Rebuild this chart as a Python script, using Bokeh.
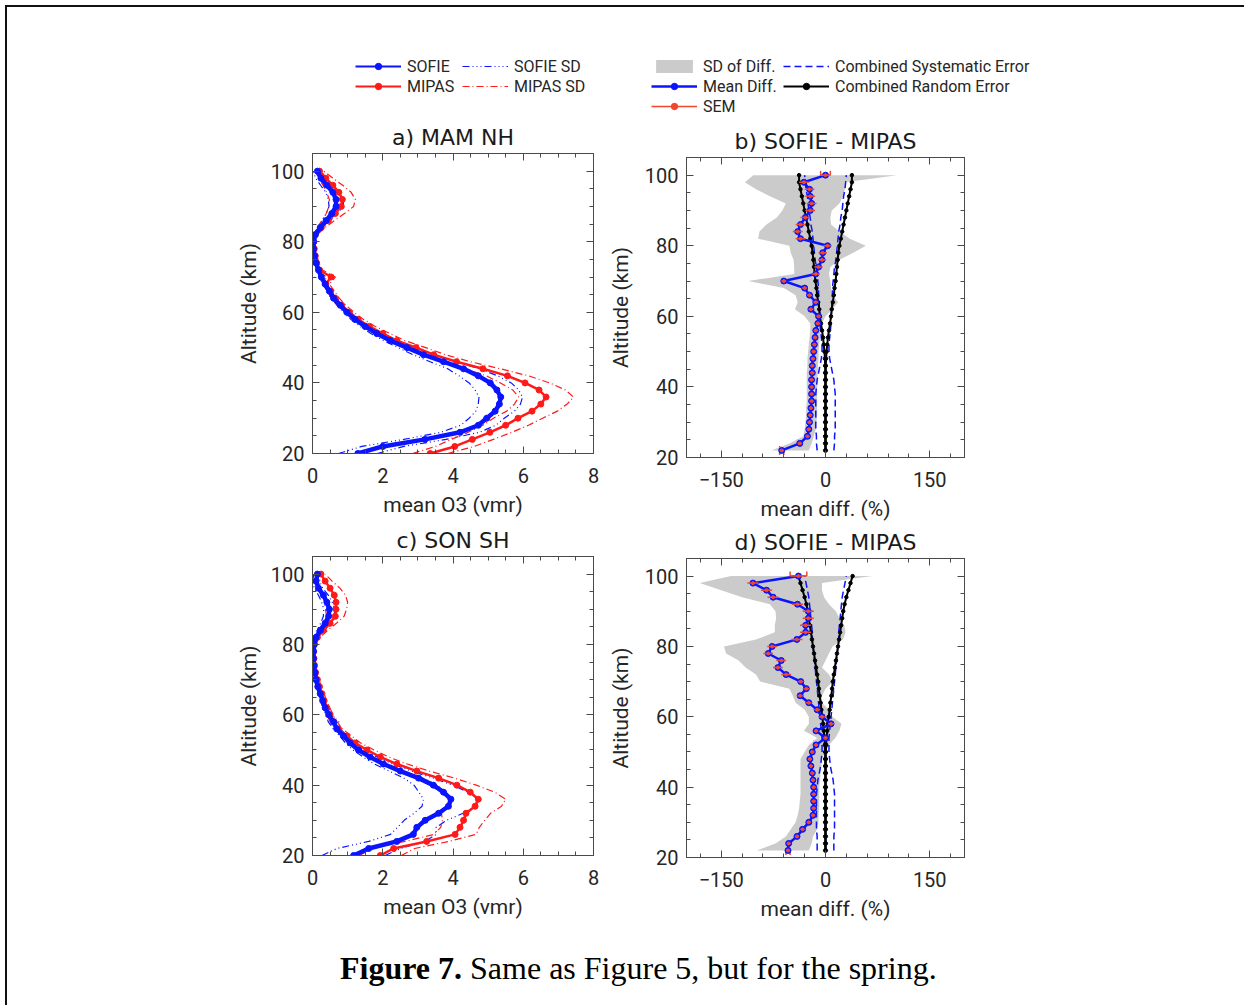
import numpy as np
from bokeh.plotting import figure
from bokeh.models import (Range1d, FixedTicker, LinearAxis, Legend, LegendItem,
                          Whisker, TeeHead, ColumnDataSource, Div)
from bokeh.layouts import column, row
from bokeh.embed import file_html
from bokeh.resources import INLINE

FONT = "Roboto"
TFONT = "DejaVu Sans"
TXT = "#262626"
AXC = "#4a4a4a"
BLUE = "#0a14ff"
RED = "#ff1a1a"
SEMC = "#f0482c"
GRAY = "#cbcbcb"
NAN = float("nan")

# ---------------- data ----------------
ALT = list(range(20, 101, 2))      # profile altitudes (km)
ALT_D = list(range(22, 101, 2))    # difference altitudes (km)

X_TICKS_O3 = [0, 2, 4, 6, 8]
X_TICKS_DIFF = [-150, 0, 150]
Y_TICKS = [20, 40, 60, 80, 100]

# a) MAM NH  (ppmv)
sofie_a = [1.29, 2.0, 3.2, 4.2, 4.72, 4.96, 5.20, 5.32, 5.36, 5.25, 5.06, 4.72, 4.30, 3.73,
           3.16, 2.69, 2.21, 1.83, 1.50, 1.21, 0.98, 0.79, 0.60, 0.48, 0.36, 0.25, 0.17, 0.10,
           0.06, 0.03, 0.03, 0.08, 0.22, 0.39, 0.55, 0.67, 0.67, 0.58, 0.41, 0.24, 0.14]
mipas_a = [3.35, 4.05, 4.55, 5.05, 5.5, 5.85, 6.25, 6.5, 6.65, 6.45, 6.05, 5.55, 4.85, 4.1,
           3.45, 2.95, 2.4, 2.0, 1.62, 1.3, 1.05, 0.83, 0.65, 0.52, 0.38, 0.53, 0.2, 0.12,
           0.08, 0.05, 0.04, 0.08, 0.25, 0.45, 0.65, 0.82, 0.85, 0.75, 0.58, 0.38, 0.2]
sofie_sd_a = [0.55, 0.6, 0.6, 0.55, 0.5, 0.5, 0.55, 0.6, 0.62, 0.62, 0.6, 0.55, 0.45, 0.38,
              0.3, 0.25, 0.2, 0.17, 0.14, 0.12, 0.1, 0.09, 0.08, 0.07, 0.06, 0.05, 0.04, 0.04,
              0.03, 0.03, 0.03, 0.05, 0.08, 0.12, 0.16, 0.2, 0.22, 0.2, 0.18, 0.15, 0.12]
mipas_sd_a = [0.5, 0.55, 0.6, 0.62, 0.65, 0.7, 0.72, 0.75, 0.78, 0.75, 0.7, 0.6, 0.5, 0.4,
              0.33, 0.27, 0.23, 0.2, 0.17, 0.15, 0.13, 0.12, 0.11, 0.1, 0.1, 0.12, 0.08, 0.06,
              0.05, 0.04, 0.04, 0.06, 0.1, 0.18, 0.26, 0.35, 0.37, 0.35, 0.28, 0.2, 0.12]

# c) SON SH  (ppmv)
sofie_c = [1.17, 1.6, 2.4, 2.87, 2.97, 3.21, 3.59, 3.87, 3.94, 3.73, 3.44, 3.02, 2.50, 2.02,
           1.64, 1.31, 1.07, 0.88, 0.69, 0.60, 0.46, 0.36, 0.29, 0.22, 0.15, 0.10, 0.07, 0.04,
           0.03, 0.03, 0.05, 0.10, 0.22, 0.36, 0.46, 0.48, 0.41, 0.31, 0.17, 0.10, 0.14]
mipas_c = [1.93, 2.31, 3.25, 4.06, 4.20, 4.30, 4.37, 4.63, 4.72, 4.49, 4.11, 3.59, 2.97, 2.40,
           1.93, 1.55, 1.21, 0.98, 0.74, 0.60, 0.50, 0.41, 0.33, 0.27, 0.20, 0.14, 0.09, 0.06,
           0.04, 0.03, 0.05, 0.14, 0.31, 0.50, 0.65, 0.67, 0.67, 0.62, 0.50, 0.36, 0.24]
sofie_sd_c = [0.9, 0.9, 0.8, 0.65, 0.55, 0.6, 0.7, 0.75, 0.78, 0.7, 0.55, 0.42, 0.32, 0.26,
              0.2, 0.16, 0.13, 0.11, 0.1, 0.15, 0.08, 0.07, 0.06, 0.05, 0.04, 0.04, 0.03, 0.03,
              0.03, 0.03, 0.04, 0.06, 0.1, 0.13, 0.15, 0.16, 0.15, 0.14, 0.12, 0.1, 0.1]
mipas_sd_c = [0.6, 0.6, 0.62, 0.6, 0.55, 0.6, 0.7, 0.75, 0.78, 0.7, 0.55, 0.45, 0.36, 0.3,
              0.24, 0.2, 0.16, 0.13, 0.11, 0.1, 0.09, 0.08, 0.07, 0.06, 0.05, 0.05, 0.04, 0.04,
              0.03, 0.03, 0.04, 0.07, 0.12, 0.18, 0.25, 0.3, 0.33, 0.32, 0.28, 0.2, 0.12]

# b) SOFIE - MIPAS (MAM NH), percent
diff_b = [-63, -37, -26, -24, -23, -22, -21, -20, -20, -20, -20, -19, -19, -18, -17, -16,
          -15, -14, -11, -10, -21, -14, -23, -30, -60, -14, -10, -5, -4, 3, -36, -40, -36,
          -29, -22, -20, -22, -23, -31, 0]
sem_b = [3, 3, 3, 3, 3, 3, 3, 3, 3, 3, 3, 3, 3, 3, 3, 3, 3, 3, 3, 3, 3.5, 3.5, 3.5, 3.5,
         3.5, 6, 6, 6, 6, 6, 7, 7, 7, 7, 7, 7, 7, 7, 7, 7]
sd_lo_b = [-78, -52, -32, -30, -29, -28, -28, -27, -27, -27, -27, -27, -26, -26, -25, -24,
           -23, -22, -22, -30, -44, -40, -43, -60, -111, -45, -45, -46, -50, -52, -97, -95,
           -85, -70, -62, -57, -80, -100, -116, -104]
sd_hi_b = [-24, -20, -17, -14, -13, -12, -12, -12, -12, -12, -12, -11, -11, -10, -10, -9,
           -8, -7, -5, 0, 10, 18, 10, 8, 7, 5, 7, 20, 40, 58, 35, 20, 8, 7, 9, 20, 25, 28,
           28, 103]
sys_b = [12, 13, 13, 14, 14, 14, 14, 14, 14, 13, 12, 10, 8, 6, 5, 5, 6, 7, 8, 8, 9, 9, 10,
         10, 11, 12, 13, 15, 16, 17, 18, 19, 21, 22, 24, 25, 26, 28, 29, 30]
rnd_b = [0.5, 0.5, 0.5, 0.5, 0.5, 0.5, 0.5, 0.5, 0.5, 0.5, 0.5, 0.5, 0.5, 0.8, 1.5, 2.5,
         3.5, 5, 6.5, 8, 9, 10.5, 12, 13, 14.5, 15.5, 16.5, 17.5, 18.5, 20, 22, 24, 26, 28,
         30, 32, 34, 36, 38, 38]

# d) SOFIE - MIPAS (SON SH), percent
diff_d = [-54, -53, -41, -33, -24, -18, -17, -17, -17, -17, -18, -19, -21, -22.5, -19,
          -13.6, 0, -13.6, 8, -5, -12, -24, -36.5, -27.6, -35.6, -56.7, -68.4, -63.7, -82.4,
          -76.8, -41.2, -28.6, -28.6, -24.8, -24.8, -40.3, -75.4, -84.8, -104.4, -38.9]
sem_d = [3, 3, 3, 3, 3, 3, 3, 3, 3, 3, 3, 3, 3, 3, 3, 3, 3, 3, 4, 4, 4, 4, 4, 4, 4, 7, 7,
         7, 7, 7, 8, 8, 8, 8, 8, 8, 8, 8, 8, 12]
sd_lo_d = [-99, -72, -57, -50, -43, -40, -38, -37, -36, -36, -36, -36, -36, -36, -30, -24,
           -12, -31, -24, -24, -30, -43, -47, -52, -94, -100, -115, -125, -143, -146, -100,
           -73, -73, -71, -72, -80, -120, -150, -181, -136]
sd_hi_d = [-24, -20, -18, -12, -10, -10, -9, -9, -9, -9, -8, -7, -6, -5, 0, 5, 14, 20, 23,
           10, 5, -5, -5, 0, 11, 5, -5, 0, 5, 10, 25, 29, 27, 20, 15, 5, -2, -5, -5, 67]
sys_d = [12, 12, 12, 13, 13, 13, 13, 13, 13, 12, 11, 9, 7, 6, 5, 5, 5, 6, 7, 8, 9, 10, 11,
         12, 13, 14, 15, 16, 17, 18, 19, 19, 20, 21, 22, 23, 24, 26, 28, 30]
rnd_d = [0.5, 0.5, 0.5, 0.5, 0.5, 0.5, 0.5, 0.5, 0.5, 0.5, 0.5, 0.5, 0.5, 0.5, 0.5, 1,
         1.5, 2.5, 3.5, 4.5, 6, 7, 8.5, 9.5, 10.5, 12, 13.5, 15, 16.5, 18, 19.5, 21, 22.5,
         24, 25.5, 27.5, 30, 33, 36, 39]

O3_MINOR = [i * 0.5 for i in range(17)]
DIFF_MINOR = list(range(-180, 181, 30))
Y_MINOR = list(range(20, 106, 5))


# ---------------- helpers ----------------
def style_axis(ax):
    ax.major_tick_in = 7
    ax.major_tick_out = 0
    ax.minor_tick_in = 4
    ax.minor_tick_out = 0
    ax.axis_line_color = AXC
    ax.major_tick_line_color = AXC
    ax.minor_tick_line_color = AXC
    ax.major_label_text_font = FONT
    ax.major_label_text_color = TXT
    ax.major_label_text_font_size = "20px"
    ax.major_label_text_line_height = 1.0
    ax.axis_label_text_font = FONT
    ax.axis_label_text_font_size = "21px"
    ax.axis_label_text_font_style = "normal"
    ax.axis_label_text_color = TXT
    ax.axis_label_text_line_height = 1.0


def mirror_axis(ticks, minor):
    ax = LinearAxis(ticker=FixedTicker(ticks=ticks, minor_ticks=minor),
                    major_label_overrides={t: "" for t in ticks},
                    major_label_standoff=0, axis_label=None)
    style_axis(ax)
    ax.major_label_text_font_size = "1px"
    return ax


def make_fig(width, height, bl, br, bt, bb, xr, xticks, xminor, xlabel, title, ylab_standoff):
    p = figure(width=width, height=height, min_border_left=bl, min_border_right=br,
               min_border_top=bt, min_border_bottom=bb, x_range=Range1d(*xr),
               y_range=Range1d(20, 105), output_backend="svg", toolbar_location=None,
               title=title)
    bx = p.below[0]
    ly = p.left[0]
    bx.ticker = FixedTicker(ticks=xticks, minor_ticks=xminor)
    ly.ticker = FixedTicker(ticks=Y_TICKS, minor_ticks=Y_MINOR)
    bx.axis_label = xlabel
    ly.axis_label = "Altitude (km)"
    style_axis(bx)
    style_axis(ly)
    bx.major_label_standoff = 14
    ly.major_label_standoff = 8
    bx.axis_label_standoff = 7
    ly.axis_label_standoff = ylab_standoff
    p.add_layout(mirror_axis(xticks, xminor), "above")
    p.add_layout(mirror_axis(Y_TICKS, Y_MINOR), "right")
    p.grid.visible = False
    p.outline_line_color = AXC
    p.title.align = "center"
    p.title.text_font = TFONT
    p.title.text_font_size = "22px"
    p.title.text_font_style = "normal"
    p.title.text_color = "#1a1a1a"
    p.title.text_line_height = 1.0
    p.title.standoff = 8
    return p


def legend(items, loc):
    return Legend(items=items, location=loc, orientation="vertical", border_line_color=None,
                  background_fill_alpha=0, padding=0, margin=0, spacing=0, glyph_width=46,
                  glyph_height=16, label_height=20, label_standoff=6, label_text_font=FONT,
                  label_text_font_size="16px", label_text_color=TXT)


def profile_panel(p, sofie, mipas, sd_s, sd_m):
    s = np.array(sofie)
    m = np.array(mipas)
    ds = np.array(sd_s)
    dm = np.array(sd_m)
    p.line(s - ds, ALT, line_color=BLUE, line_width=1.2, line_dash="7 3 1 3 1 3 1 3")
    p.line(s + ds, ALT, line_color=BLUE, line_width=1.2, line_dash="7 3 1 3 1 3 1 3")
    p.line(m - dm, ALT, line_color=RED, line_width=1.2, line_dash="7 3 1 3")
    p.line(m + dm, ALT, line_color=RED, line_width=1.2, line_dash="7 3 1 3")
    p.line(mipas, ALT, line_color=RED, line_width=2.5)
    p.scatter(mipas, ALT, marker="circle", size=6, color=RED)
    p.line(sofie, ALT, line_color=BLUE, line_width=4.5)
    p.scatter(sofie, ALT, marker="circle", size=6, color=BLUE)


def diff_panel(p, diff, sem, lo, hi, sysv, rnd):
    d = np.array(diff, dtype=float)
    e = np.array(sem, dtype=float)
    src = ColumnDataSource(dict(alt=ALT_D, d=d, lo=d - e, hi=d + e))
    band = ColumnDataSource(dict(alt=ALT_D, lo=lo, hi=hi))
    sv = np.array(sysv, dtype=float)
    rv = np.array(rnd, dtype=float)
    p.harea(x1="lo", x2="hi", y="alt", source=band, fill_color=GRAY)
    p.line(-sv, ALT_D, line_color=BLUE, line_width=1.5, line_dash="7 4")
    p.line(sv, ALT_D, line_color=BLUE, line_width=1.5, line_dash="7 4")
    for sgn in (-1, 1):
        p.line(sgn * rv, ALT_D, line_color="black", line_width=2)
        p.scatter(sgn * rv, ALT_D, marker="circle", size=3.5, color="black")
    p.line("d", "alt", source=src, line_color=BLUE, line_width=2.5)
    p.scatter("d", "alt", source=src, marker="circle", size=6, color=BLUE)
    p.segment(x0="lo", y0="alt", x1="hi", y1="alt", source=src, line_color=SEMC, line_width=1.5)
    p.add_layout(Whisker(source=src, base="alt", lower="lo", upper="hi", dimension="width",
                         line_color=SEMC, line_width=1.5,
                         lower_head=TeeHead(size=9, line_color=SEMC, line_width=1.5),
                         upper_head=TeeHead(size=9, line_color=SEMC, line_width=1.5)))
    p.scatter("d", "alt", source=src, marker="circle", size=3, color=SEMC)


# ---------------- legend strip (proxy glyphs carry no visible data) ----------------
W = 1230
pl = figure(width=W, height=111, min_border=0, x_range=Range1d(0, 1), y_range=Range1d(0, 1),
            output_backend="svg", toolbar_location=None, x_axis_location=None,
            y_axis_location=None)
pl.grid.visible = False
pl.outline_line_color = None
P = dict(x=[NAN], y=[NAN])
g_sl = pl.line(**P, line_color=BLUE, line_width=2)
g_ss = pl.scatter(**P, marker="circle", size=5, color=BLUE)
g_ml = pl.line(**P, line_color=RED, line_width=2)
g_ms = pl.scatter(**P, marker="circle", size=5, color=RED)
g_ssd = pl.line(**P, line_color=BLUE, line_width=1.2, line_dash="7 3 1 3 1 3 1 3")
g_msd = pl.line(**P, line_color=RED, line_width=1.2, line_dash="7 3 1 3")
g_sd = pl.harea(x1=[NAN], x2=[NAN], y=[NAN], fill_color=GRAY)
g_dl = pl.line(**P, line_color=BLUE, line_width=2.5)
g_ds = pl.scatter(**P, marker="circle", size=5, color=BLUE)
g_el = pl.line(**P, line_color=SEMC, line_width=1.5)
g_es = pl.scatter(**P, marker="circle", size=4, color=SEMC)
g_sys = pl.line(**P, line_color=BLUE, line_width=1.5, line_dash="7 4")
g_rl = pl.line(**P, line_color="black", line_width=2)
g_rs = pl.scatter(**P, marker="circle", size=4, color="black")

# strip spans page y 7..118; legend boxes bottom-left in strip pixels
pl.add_layout(legend([LegendItem(label="SOFIE", renderers=[g_sl, g_ss]),
                      LegendItem(label="MIPAS", renderers=[g_ml, g_ms])], (348, 22)))
pl.add_layout(legend([LegendItem(label="SOFIE SD", renderers=[g_ssd]),
                      LegendItem(label="MIPAS SD", renderers=[g_msd])], (455, 22)))
pl.add_layout(legend([LegendItem(label="SD of Diff.", renderers=[g_sd]),
                      LegendItem(label="Mean Diff.", renderers=[g_dl, g_ds]),
                      LegendItem(label="SEM", renderers=[g_el, g_es])], (644, 2)))
pl.add_layout(legend([LegendItem(label="Combined Systematic Error", renderers=[g_sys]),
                      LegendItem(label="Combined Random Error", renderers=[g_rl, g_rs])], (776, 22)))

# ---------------- panels ----------------
pa = make_fig(596, 403, 305, 10, 34, 68, (0, 8), X_TICKS_O3, O3_MINOR, "mean O3 (vmr)", "a) MAM NH", 7)
pc = make_fig(596, 409, 305, 10, 34, 75, (0, 8), X_TICKS_O3, O3_MINOR, "mean O3 (vmr)", "c) SON SH", 7)
pb = make_fig(634, 405, 80, 273, 39, 65, (-200, 200), X_TICKS_DIFF, DIFF_MINOR, "mean diff. (%)", "b) SOFIE - MIPAS", 9)
pd_ = make_fig(634, 407, 83, 270, 34, 73, (-200, 200), X_TICKS_DIFF, DIFF_MINOR, "mean diff. (%)", "d) SOFIE - MIPAS", 9)

profile_panel(pa, sofie_a, mipas_a, sofie_sd_a, mipas_sd_a)
profile_panel(pc, sofie_c, mipas_c, sofie_sd_c, mipas_sd_c)
diff_panel(pb, diff_b, sem_b, sd_lo_b, sd_hi_b, sys_b, rnd_b)
diff_panel(pd_, diff_d, sem_d, sd_lo_d, sd_hi_d, sys_d, rnd_d)

caption = Div(text=("<div style=\"padding-top:15px;padding-left:328px;text-align:left;white-space:nowrap;"
                    "font-family:'Liberation Serif','Times New Roman',serif;font-size:32px;"
                    "line-height:36px;color:#000;\"><b>Figure 7.</b> Same as Figure 5, but for the spring.</div>"),
              width=W, height=68)

layout = column(pl, row(column(pa, pc), column(pb, pd_)), caption,
                styles={"border-top": "2px solid #111", "border-left": "2px solid #111",
                        "margin-left": "5px", "margin-top": "5px"})

open("out.html", "w").write(file_html(layout, INLINE))
